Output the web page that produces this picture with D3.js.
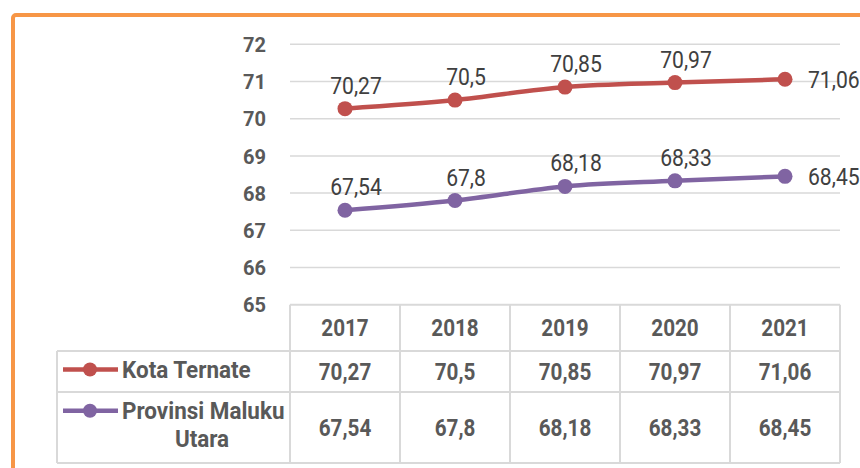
<!DOCTYPE html>
<html>
<head>
<meta charset="utf-8">
<script src="https://cdn.jsdelivr.net/npm/d3@7"></script>
<style>
  html, body { margin: 0; padding: 0; background: #fff; }
  svg { display: block; font-family: Roboto, "Liberation Sans", sans-serif; }
</style>
</head>
<body>
<svg id="chart" width="860" height="468"></svg>
<script>
/* ---- data ------------------------------------------------------- */
const years     = ["2017", "2018", "2019", "2020", "2021"];
const ternate   = [70.27, 70.5, 70.85, 70.97, 71.06];
const malut     = [67.54, 67.8, 68.18, 68.33, 68.45];
const yTicks    = [65, 66, 67, 68, 69, 70, 71, 72];

const series = [
  { name: ["Kota Ternate"],              values: ternate, colour: "#C0504D" },
  { name: ["Provinsi Maluku", "Utara"],  values: malut,   colour: "#8064A2" }
];

const fmt = v => String(v).replace(".", ",");

/* ---- layout ----------------------------------------------------- */
const plot  = { left: 290, right: 840, top: 44.3, bottom: 304.7 };
const table = { legendLeft: 57, rows: [304.7, 351, 392, 463] };
const grey  = "#D9D9D9";
const SQ    = 0.88;            // horizontal squeeze of the condensed text
const SQ_LEG = 0.955;          // legend labels are a bit wider

const svg = d3.select("#chart");

// orange frame, runs off the right/bottom edge
svg.append("rect")
  .attr("x", 13).attr("y", 15)
  .attr("width", 900).attr("height", 500)
  .attr("rx", 3)
  .attr("fill", "none")
  .attr("stroke", "#F79646")
  .attr("stroke-width", 4);

const x = d3.scaleBand(years, [plot.left, plot.right]);
const y = d3.scaleLinear([65, 72], [plot.bottom, plot.top]);
const cx = d => x(d) + x.bandwidth() / 2;

// squeezed text helper
function place(sel, px, py, sq = SQ) {
  return sel.attr("transform", `translate(${px},${py}) scale(${sq},1)`);
}

/* ---- grid + y axis --------------------------------------------- */
svg.append("g")
  .selectAll("line")
  .data(yTicks.filter(t => t > 65))
  .join("line")
    .attr("x1", plot.left).attr("x2", plot.right)
    .attr("y1", d => y(d)).attr("y2", d => y(d))
    .attr("stroke", grey).attr("stroke-width", 1.5);

const yAxis = svg.append("g")
  .attr("transform", `translate(${plot.left},0)`)
  .call(d3.axisLeft(y).tickValues(yTicks).tickSize(0).tickPadding(24).tickFormat(d3.format("d")));
yAxis.select(".domain").remove();
yAxis.selectAll("text")
  .attr("font-family", "Roboto, sans-serif")
  .attr("font-size", 20)
  .attr("font-weight", "bold")
  .attr("fill", "#595959")
  .attr("dy", "0.36em");

/* ---- lines, markers, labels ------------------------------------ */
const lineGen = d3.line()
  .x((d, i) => cx(years[i]))
  .y(d => y(d))
  .curve(d3.curveMonotoneX);

series.forEach(s => {
  const g = svg.append("g");
  g.append("path")
    .datum(s.values)
    .attr("fill", "none")
    .attr("stroke", s.colour)
    .attr("stroke-width", 4.5)
    .attr("stroke-linejoin", "round")
    .attr("d", lineGen);

  g.selectAll("circle")
    .data(s.values)
    .join("circle")
      .attr("cx", (d, i) => cx(years[i]))
      .attr("cy", d => y(d))
      .attr("r", 7.5)
      .attr("fill", s.colour);

  g.selectAll("text")
    .data(s.values)
    .join("text")
      .attr("font-size", 24)
      .attr("fill", "#404040")
      .attr("text-anchor", (d, i) => i === years.length - 1 ? "start" : "middle")
      .text(fmt)
      .each(function (d, i) {
        const last = i === years.length - 1;
        const px = last ? cx(years[i]) + 23 : cx(years[i]) + 11;
        const py = last ? y(d) + 9 : y(d) - 15;
        place(d3.select(this), px, py);
      });
});

/* ---- data table ------------------------------------------------- */
const tg = svg.append("g");
const [r0, r1, r2, r3] = table.rows;
const lineStyle = sel => sel.attr("stroke", grey).attr("stroke-width", 2);

// horizontal rules
tg.append("line").attr("x1", plot.left).attr("x2", plot.right).attr("y1", r0).attr("y2", r0).call(lineStyle);
[r1, r2, r3].forEach(r =>
  tg.append("line").attr("x1", table.legendLeft).attr("x2", plot.right).attr("y1", r).attr("y2", r).call(lineStyle));

// vertical rules
tg.append("line").attr("x1", table.legendLeft).attr("x2", table.legendLeft).attr("y1", r1).attr("y2", r3).call(lineStyle);
x.domain().concat(["end"]).forEach((yr, i) => {
  const xx = i < years.length ? x(yr) : plot.right;
  tg.append("line").attr("x1", xx).attr("x2", xx).attr("y1", r0).attr("y2", r3).call(lineStyle);
});

const cellText = (txt, px, py) =>
  place(tg.append("text")
    .attr("text-anchor", "middle")
    .attr("font-size", 23.5)
    .attr("font-weight", "bold")
    .attr("fill", "#595959")
    .text(txt), px, py);

years.forEach(yr => cellText(yr, cx(yr), (r0 + r1) / 2 + 8));
ternate.forEach((v, i) => cellText(fmt(v), cx(years[i]), (r1 + r2) / 2 + 8));
malut.forEach((v, i) => cellText(fmt(v), cx(years[i]), (r2 + r3) / 2 + 8));

// legend keys
const keyY = [369.5, 410.7];
series.forEach((s, k) => {
  tg.append("line")
    .attr("x1", 63).attr("x2", 118)
    .attr("y1", keyY[k]).attr("y2", keyY[k])
    .attr("stroke", s.colour).attr("stroke-width", 4.5);
  tg.append("circle")
    .attr("cx", 90).attr("cy", keyY[k]).attr("r", 7)
    .attr("fill", s.colour);
});
const legText = () => tg.append("text")
  .attr("font-size", 23.5).attr("font-weight", "bold").attr("fill", "#595959");
place(legText().text(series[0].name[0]), 122, 377.5, SQ_LEG);
place(legText().text(series[1].name[0]), 122, 418.5, SQ_LEG);
place(legText().attr("text-anchor", "middle").text(series[1].name[1]), 202, 447, SQ_LEG);
</script>
</body>
</html>
